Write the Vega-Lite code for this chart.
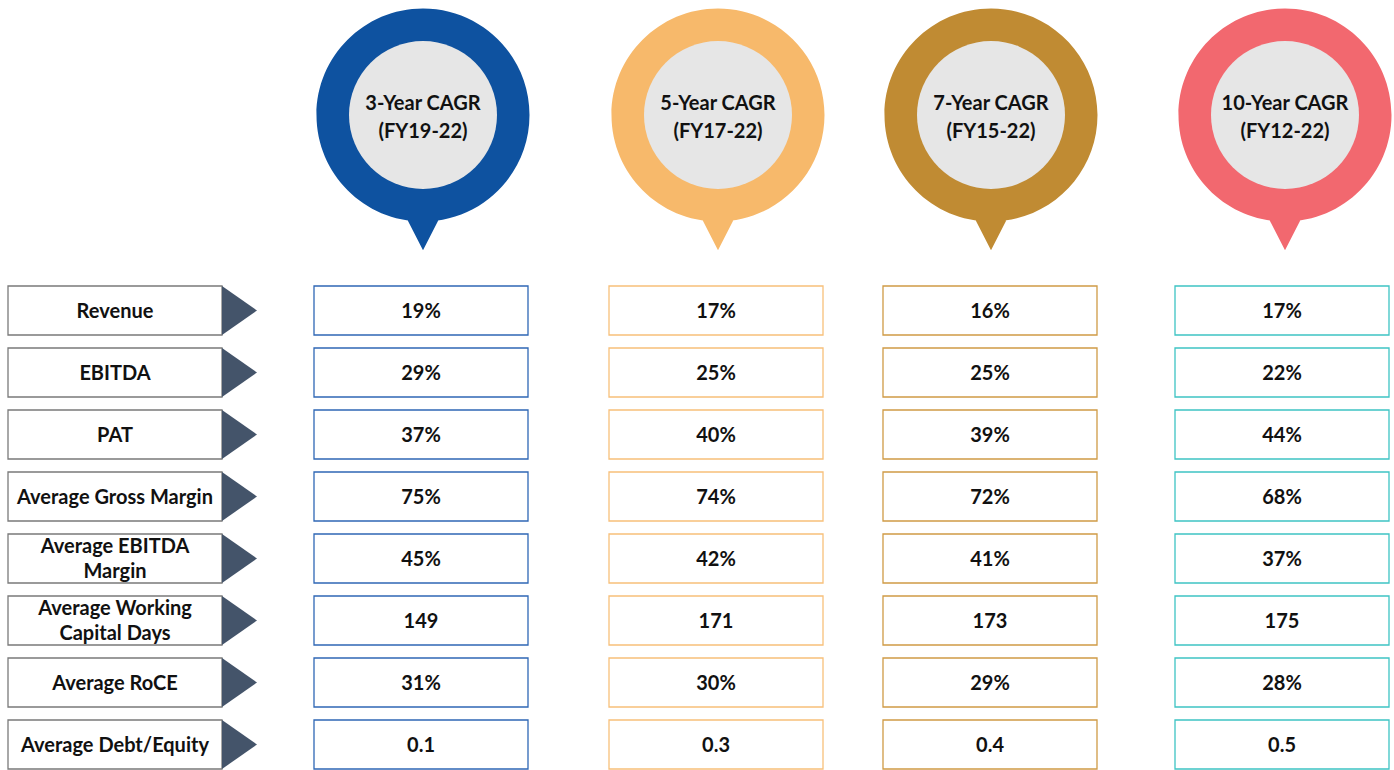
{
  "$schema": "https://vega.github.io/schema/vega-lite/v6.json",
  "padding": 0,
  "spacing": 56,
  "bounds": "flush",
  "background": "white",
  "config": {"view": {"stroke": null}, "font": "Lato"},
  "datasets": {
    "periods": [
      {"years": 3, "period": "3-Year CAGR", "label": "3-Year CAGR\n(FY19-22)"},
      {"years": 5, "period": "5-Year CAGR", "label": "5-Year CAGR\n(FY17-22)"},
      {"years": 7, "period": "7-Year CAGR", "label": "7-Year CAGR\n(FY15-22)"},
      {"years": 10, "period": "10-Year CAGR", "label": "10-Year CAGR\n(FY12-22)"}
    ],
    "metrics": [
      {"metric": "Revenue"},
      {"metric": "EBITDA"},
      {"metric": "PAT"},
      {"metric": "Average Gross Margin"},
      {"metric": "Average EBITDA\nMargin"},
      {"metric": "Average Working\nCapital Days"},
      {"metric": "Average RoCE"},
      {"metric": "Average Debt/Equity"}
    ],
    "values": [
      {"metric": "Revenue", "years": 3, "period": "3-Year CAGR", "value": "19%"},
      {"metric": "Revenue", "years": 5, "period": "5-Year CAGR", "value": "17%"},
      {"metric": "Revenue", "years": 7, "period": "7-Year CAGR", "value": "16%"},
      {"metric": "Revenue", "years": 10, "period": "10-Year CAGR", "value": "17%"},
      {"metric": "EBITDA", "years": 3, "period": "3-Year CAGR", "value": "29%"},
      {"metric": "EBITDA", "years": 5, "period": "5-Year CAGR", "value": "25%"},
      {"metric": "EBITDA", "years": 7, "period": "7-Year CAGR", "value": "25%"},
      {"metric": "EBITDA", "years": 10, "period": "10-Year CAGR", "value": "22%"},
      {"metric": "PAT", "years": 3, "period": "3-Year CAGR", "value": "37%"},
      {"metric": "PAT", "years": 5, "period": "5-Year CAGR", "value": "40%"},
      {"metric": "PAT", "years": 7, "period": "7-Year CAGR", "value": "39%"},
      {"metric": "PAT", "years": 10, "period": "10-Year CAGR", "value": "44%"},
      {"metric": "Average Gross Margin", "years": 3, "period": "3-Year CAGR", "value": "75%"},
      {"metric": "Average Gross Margin", "years": 5, "period": "5-Year CAGR", "value": "74%"},
      {"metric": "Average Gross Margin", "years": 7, "period": "7-Year CAGR", "value": "72%"},
      {"metric": "Average Gross Margin", "years": 10, "period": "10-Year CAGR", "value": "68%"},
      {"metric": "Average EBITDA\nMargin", "years": 3, "period": "3-Year CAGR", "value": "45%"},
      {"metric": "Average EBITDA\nMargin", "years": 5, "period": "5-Year CAGR", "value": "42%"},
      {"metric": "Average EBITDA\nMargin", "years": 7, "period": "7-Year CAGR", "value": "41%"},
      {"metric": "Average EBITDA\nMargin", "years": 10, "period": "10-Year CAGR", "value": "37%"},
      {"metric": "Average Working\nCapital Days", "years": 3, "period": "3-Year CAGR", "value": "149"},
      {"metric": "Average Working\nCapital Days", "years": 5, "period": "5-Year CAGR", "value": "171"},
      {"metric": "Average Working\nCapital Days", "years": 7, "period": "7-Year CAGR", "value": "173"},
      {"metric": "Average Working\nCapital Days", "years": 10, "period": "10-Year CAGR", "value": "175"},
      {"metric": "Average RoCE", "years": 3, "period": "3-Year CAGR", "value": "31%"},
      {"metric": "Average RoCE", "years": 5, "period": "5-Year CAGR", "value": "30%"},
      {"metric": "Average RoCE", "years": 7, "period": "7-Year CAGR", "value": "29%"},
      {"metric": "Average RoCE", "years": 10, "period": "10-Year CAGR", "value": "28%"},
      {"metric": "Average Debt/Equity", "years": 3, "period": "3-Year CAGR", "value": "0.1"},
      {"metric": "Average Debt/Equity", "years": 5, "period": "5-Year CAGR", "value": "0.3"},
      {"metric": "Average Debt/Equity", "years": 7, "period": "7-Year CAGR", "value": "0.4"},
      {"metric": "Average Debt/Equity", "years": 10, "period": "10-Year CAGR", "value": "0.5"}
    ]
  },
  "resolve": {"scale": {"x": "independent", "y": "independent"}},
  "vconcat": [
    {
      "width": 1394,
      "height": 230,
      "data": {"name": "periods"},
      "encoding": {
        "x": {"field": "years", "type": "quantitative", "axis": null,
              "scale": {"type": "linear", "domain": [0, 3, 5, 7, 10], "range": [115, 423, 718, 991, 1285], "nice": false, "zero": false}}
      },
      "layer": [
        {
          "mark": {"type": "point", "shape": "M -1 0 A 1 1 0 1 1 1 0 A 1 1 0 1 1 -1 0 Z M -0.19 0.9 L 0.19 0.9 L 0 1.27 Z",
                   "size": 45369, "filled": true, "opacity": 1, "strokeWidth": 0},
          "encoding": {
            "fill": {"field": "period", "type": "nominal", "legend": null,
                     "scale": {"domain": ["3-Year CAGR", "5-Year CAGR", "7-Year CAGR", "10-Year CAGR"],
                               "range": ["#0e52a0", "#f7b96b", "#c08b33", "#f2686f"]}}
          }
        },
        {
          "mark": {"type": "point", "shape": "circle", "size": 21904, "filled": true, "opacity": 1, "fill": "#e6e6e6", "strokeWidth": 0}
        },
        {
          "mark": {"type": "text", "font": "Lato", "fontSize": 20, "fontWeight": "bold", "lineBreak": "\n", "lineHeight": 28, "dy": -11, "color": "#111111", "baseline": "middle", "align": "center"},
          "encoding": {"text": {"field": "label", "type": "nominal"}}
        }
      ]
    },
    {
      "width": 1394,
      "height": 483,
      "layer": [
        {
          "data": {"name": "metrics"},
          "mark": {"type": "point", "shape": "M -1 -0.229 H 1 V 0.229 H -1 Z", "size": 45796, "filled": true, "opacity": 1, "fill": "white", "stroke": "#7a7a7a", "strokeWidth": 1.3},
          "encoding": {
            "x": {"datum": 0, "type": "quantitative", "axis": null,
                  "scale": {"type": "linear", "domain": [0, 3, 5, 7, 10], "range": [115, 421, 716, 990, 1282], "nice": false, "zero": false}},
            "y": {"field": "metric", "type": "nominal", "axis": null, "sort": null,
                  "scale": {"type": "point", "padding": 0.395}}
          }
        },
        {
          "data": {"name": "metrics"},
          "mark": {"type": "point", "shape": "M 1 -0.229 L 1.327 0 L 1 0.229 Z", "size": 45796, "filled": true, "opacity": 1, "fill": "#44546a", "strokeWidth": 0},
          "encoding": {
            "x": {"datum": 0, "type": "quantitative"},
            "y": {"field": "metric", "type": "nominal", "sort": null}
          }
        },
        {
          "data": {"name": "metrics"},
          "transform": [{"filter": "indexof(datum.metric, '\\n') < 0"}],
          "mark": {"type": "text", "font": "Lato", "fontSize": 20, "fontWeight": "bold", "dy": 1.5, "color": "#111111", "baseline": "middle", "align": "center"},
          "encoding": {
            "x": {"datum": 0, "type": "quantitative"},
            "y": {"field": "metric", "type": "nominal", "sort": null},
            "text": {"field": "metric", "type": "nominal"}
          }
        },
        {
          "data": {"name": "metrics"},
          "transform": [{"filter": "indexof(datum.metric, '\\n') >= 0"}],
          "mark": {"type": "text", "font": "Lato", "fontSize": 20, "fontWeight": "bold", "lineBreak": "\n", "lineHeight": 25, "dy": -11.5, "color": "#111111", "baseline": "middle", "align": "center"},
          "encoding": {
            "x": {"datum": 0, "type": "quantitative"},
            "y": {"field": "metric", "type": "nominal", "sort": null},
            "text": {"field": "metric", "type": "nominal"}
          }
        },
        {
          "data": {"name": "values"},
          "mark": {"type": "point", "shape": "M -1 -0.229 H 1 V 0.229 H -1 Z", "size": 45796, "filled": true, "opacity": 1, "fill": "white", "strokeWidth": 1.3},
          "encoding": {
            "x": {"field": "years", "type": "quantitative"},
            "y": {"field": "metric", "type": "nominal", "sort": null},
            "stroke": {"field": "period", "type": "nominal", "legend": null,
                       "scale": {"domain": ["3-Year CAGR", "5-Year CAGR", "7-Year CAGR", "10-Year CAGR"],
                                 "range": ["#2f67b5", "#f8c07a", "#cf9b45", "#3ec4c4"]}}
          }
        },
        {
          "data": {"name": "values"},
          "mark": {"type": "text", "font": "Lato", "fontSize": 20, "fontWeight": "bold", "dy": 1.5, "color": "#111111", "baseline": "middle", "align": "center"},
          "encoding": {
            "x": {"field": "years", "type": "quantitative"},
            "y": {"field": "metric", "type": "nominal", "sort": null},
            "text": {"field": "value", "type": "nominal"}
          }
        }
      ]
    }
  ]
}
